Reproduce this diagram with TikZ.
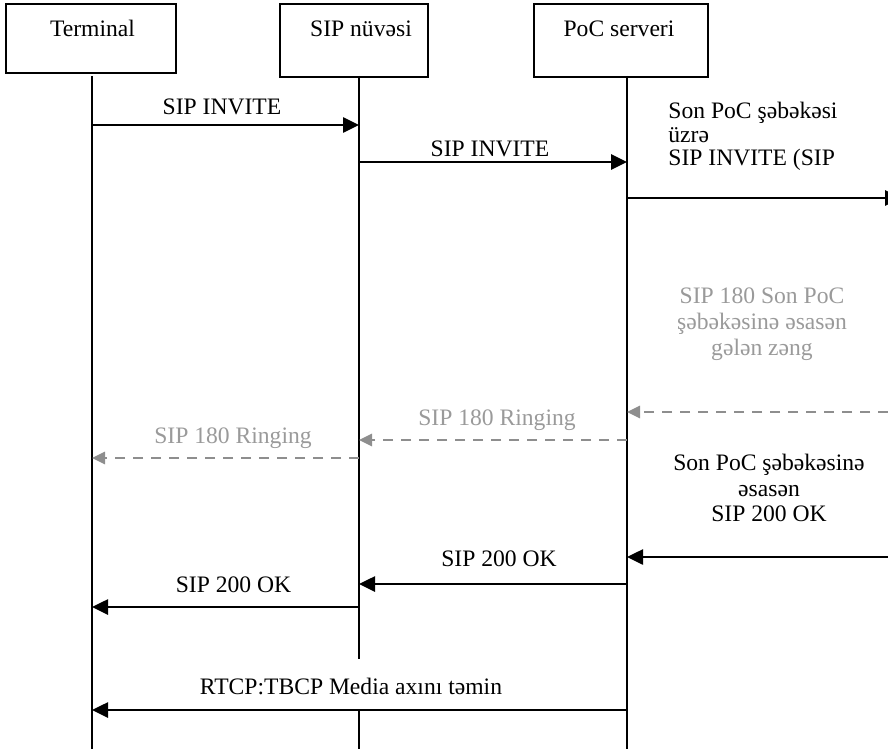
\documentclass[tikz,border=0pt]{standalone}
\usepackage{fontspec}
\setmainfont{Liberation Serif}
\usetikzlibrary{arrows.meta}
\definecolor{ringgrey}{HTML}{8E8E8E}
\definecolor{notegrey}{HTML}{9A9A9A}
\begin{document}
\begin{tikzpicture}[x=0.5pt,y=-0.5pt,
    font=\fontsize{11.8pt}{12.5pt}\selectfont,
    party/.style={draw,line width=1pt,anchor=north west,inner sep=0pt},
    life/.style={line width=1pt},
    msg/.style={line width=1.3pt,-{Triangle[length=8pt,width=7.5pt]}},
    ring/.style={line width=1.4pt,draw=ringgrey,dash pattern=on 5pt off 4pt,
      -{Triangle[length=6.5pt,width=6pt]}},
    txt/.style={inner sep=0pt,anchor=base},
    note/.style={inner sep=0pt,anchor=north,align=center}]
    \useasboundingbox (0,0) rectangle (888,749);
    \node[party,minimum width=85pt,minimum height=34.5pt] (term) at (5,3) {};
    \node[party,minimum width=74pt,minimum height=36.5pt] (sip) at (279,3) {};
    \node[party,minimum width=87pt,minimum height=36.5pt] (poc) at (533,3) {};
    \node[txt] (termname) at (92.5,37) {Terminal};
    \node[txt] (sipname) at (361,37) {SIP nüvəsi};
    \node[txt] (pocname) at (619,37) {PoC serveri};
    \coordinate (T) at (92,76); \coordinate (S) at (359,76);
    \coordinate (P) at (627,76); \coordinate (E) at (888,76);
    \coordinate (X) at (901,76); \coordinate (bot) at (0,749);
    \coordinate (gapa) at (0,659); \coordinate (gapb) at (0,710);
    \draw[life] (T) -- (T |- bot);
    \draw[life] (S) -- (S |- gapa);
    \draw[life] (S |- gapb) -- (S |- bot);
    \draw[life] (P) -- (P |- bot);
    \coordinate (r1) at (0,125); \coordinate (r2) at (0,162);
    \coordinate (r3) at (0,198); \coordinate (r4) at (0,412);
    \coordinate (r5) at (0,440); \coordinate (r6) at (0,458);
    \coordinate (r7) at (0,557); \coordinate (r8) at (0,584);
    \coordinate (r9) at (0,607); \coordinate (r10) at (0,710);
    \draw[msg] (T |- r1) -- (S |- r1);
    \draw[msg] (S |- r2) -- (P |- r2);
    \draw[msg] (P |- r3) -- (X |- r3);
    \draw[ring] (E |- r4) -- (P |- r4);
    \draw[ring] (P |- r5) -- (S |- r5);
    \draw[ring] (S |- r6) -- (T |- r6);
    \draw[msg] (E |- r7) -- (P |- r7);
    \draw[msg] (P |- r8) -- (S |- r8);
    \draw[msg] (S |- r9) -- (T |- r9);
    \draw[msg] (P |- r10) -- (T |- r10);
    \node[txt] (inv1) at (222,115) {SIP INVITE};
    \node[txt] (inv2) at (490,156) {SIP INVITE};
    \node[note,anchor=north west,align=left,font=\fontsize{11.8pt}{11.75pt}\selectfont]
      (inv3) at (668,102) {Son PoC şəbəkəsi\\üzrə\\SIP INVITE (SIP};
    \node[note,text=notegrey,font=\fontsize{11.8pt}{13pt}\selectfont]
      (ring0) at (762,287) {SIP 180 Son PoC\\şəbəkəsinə əsasən\\gələn zəng};
    \node[txt,text=notegrey] (ring1) at (497,425) {SIP 180 Ringing};
    \node[txt,text=notegrey] (ring2) at (233,443) {SIP 180 Ringing};
    \node[note,font=\fontsize{11.8pt}{12.75pt}\selectfont]
      (ok0) at (769,454) {Son PoC şəbəkəsinə\\əsasən\\SIP 200 OK};
    \node[txt] (ok1) at (499,566) {SIP 200 OK};
    \node[txt] (ok2) at (233.5,592) {SIP 200 OK};
    \node[txt] (media) at (351,694) {RTCP:TBCP Media axını təmin};
  \end{tikzpicture}
\end{document}
